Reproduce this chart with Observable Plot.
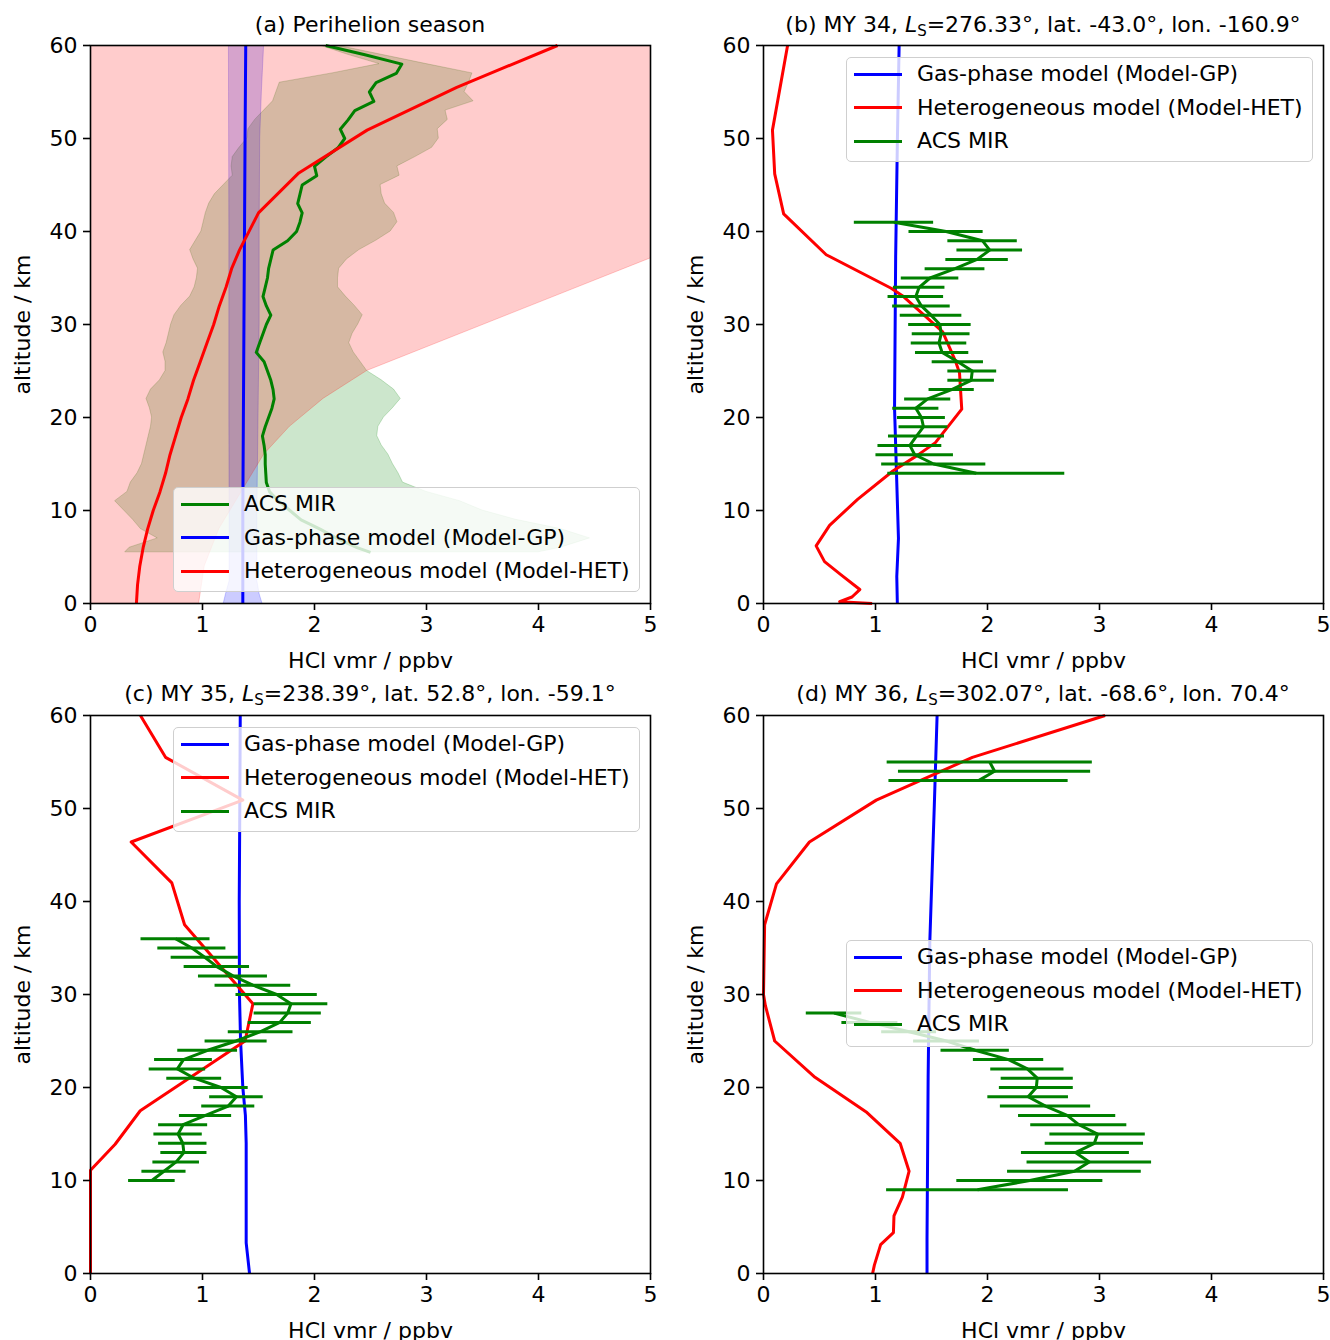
<!DOCTYPE html>
<html>
<head>
<meta charset="utf-8">
<script src="https://cdn.jsdelivr.net/npm/d3@7"></script>
<script src="https://cdn.jsdelivr.net/npm/@observablehq/plot@0.6"></script>
<style>
  body { margin: 0; background: #fff; font-family: "DejaVu Sans", sans-serif; }
  #fig { position: relative; width: 1330px; height: 1340px; overflow: hidden; background: #fff; }
  .panel { position: absolute; }
  .title { position: absolute; text-align: center; font-size: 22px; line-height: 26px; white-space: nowrap; color: #000; }
  .title sub { font-size: 15px; vertical-align: -4px; line-height: 0; font-style: normal; }
  .legend { position: absolute; background: rgba(255,255,255,0.8); border: 1.5px solid #cfcfcf; border-radius: 5px; box-sizing: border-box; font-size: 22px; color: #000; }
  .legend .row { position: absolute; left: 0; height: 0; }
  .legend .handle { position: absolute; left: 7px; width: 48px; height: 3px; top: -1.5px; }
  .legend .lab { position: absolute; left: 70px; top: -13px; line-height: 26px; white-space: nowrap; }
</style>
</head>
<body>
<div id="fig"></div>
<script>
// ---------- shared ticks ----------
const xTicks = [0, 1, 2, 3, 4, 5];
const yTicks = [0, 10, 20, 30, 40, 50, 60];

// ---------- panel (a): Perihelion season ----------
const altAcsA = [60,59,58,57,56,55,54,53,52,51,50,49,48,47,46,45,44,43,42,41,40,39,38,37,36,35,34,33,32,31,30,29,28,27,26,25,24,23,22,21,20,19,18,17,16,15,14,13,12,11,10,9,8,7,6,5.5];
const acsMeanA = [2.10,2.45,2.78,2.73,2.55,2.49,2.53,2.36,2.30,2.23,2.27,2.21,2.10,2.00,2.02,1.89,1.87,1.85,1.89,1.87,1.84,1.76,1.63,1.61,1.59,1.58,1.56,1.54,1.57,1.61,1.57,1.54,1.51,1.48,1.55,1.58,1.61,1.63,1.64,1.62,1.59,1.56,1.535,1.55,1.56,1.56,1.565,1.57,1.60,1.68,1.78,1.88,2.05,2.20,2.38,2.50];
const acsLoA = [2.05,2.30,2.58,2.16,1.69,1.66,1.63,1.55,1.47,1.41,1.40,1.33,1.27,1.26,1.27,1.19,1.11,1.06,1.03,1.01,0.99,0.94,0.89,0.92,0.96,0.95,0.93,0.89,0.81,0.75,0.72,0.70,0.68,0.65,0.67,0.67,0.62,0.54,0.50,0.53,0.55,0.54,0.52,0.50,0.48,0.46,0.42,0.36,0.33,0.22,0.30,0.38,0.45,0.60,0.35,0.31];
const acsHiA = [2.20,2.60,3.00,3.41,3.38,3.34,3.42,3.17,3.19,3.10,3.11,3.05,2.90,2.74,2.76,2.59,2.60,2.63,2.71,2.74,2.68,2.55,2.40,2.29,2.22,2.21,2.21,2.28,2.36,2.43,2.39,2.34,2.31,2.35,2.41,2.47,2.60,2.71,2.77,2.70,2.62,2.57,2.56,2.60,2.66,2.70,2.75,2.79,3.00,3.30,3.50,3.80,4.20,4.46,4.20,4.00];

const altGpA = [0,1,2.4,5,10,20,30,40,50,55,60];
const gpA    = [1.36,1.36,1.36,1.36,1.36,1.365,1.37,1.375,1.38,1.383,1.386];
const gpLoA  = [1.19,1.21,1.242,1.242,1.242,1.24,1.24,1.24,1.238,1.237,1.236];
const gpHiA  = [1.535,1.51,1.49,1.49,1.49,1.50,1.51,1.51,1.515,1.53,1.55];

const altHetA = [0,2,4,6,8,10,12,14,16,18,20,22,24,26,28,30,32,34,36,38,42,46.3,50.9,55.5,60];
const hetA    = [0.41,0.42,0.44,0.47,0.51,0.56,0.62,0.67,0.71,0.76,0.81,0.87,0.92,0.98,1.04,1.10,1.15,1.21,1.26,1.33,1.50,1.86,2.47,3.27,4.17];
const altHetBandA = [0,4,8,12,16,19,22,25,37.1,60];
const hetLoA      = [0,0,0,0,0,0,0,0,0,0];
const hetHiA      = [0.97,1.02,1.15,1.35,1.55,1.78,2.08,2.47,5.0,9.8];

// ---------- panel (b): MY 34 ----------
const altAcsB = [41,40,39,38,37,36,35,34,33,32,31,30,29,28,27,26,25,24,23,22,21,20,19,18,17,16,15,14];
const acsB = [1.165,1.63,1.956,2.02,1.907,1.71,1.487,1.39,1.36,1.41,1.496,1.575,1.586,1.567,1.595,1.735,1.864,1.854,1.68,1.466,1.36,1.41,1.428,1.366,1.307,1.35,1.52,1.90];
const errB = [0.354,0.331,0.31,0.293,0.279,0.267,0.257,0.23,0.248,0.257,0.275,0.279,0.258,0.248,0.238,0.229,0.218,0.208,0.202,0.206,0.206,0.214,0.218,0.25,0.285,0.346,0.465,0.79];
const altHetB = [0,0.2,0.7,1.5,3.1,4.5,6.2,8.4,11.2,14.25,15.9,17.3,20.9,24.8,26.0,29.2,33.1,33.9,37.5,41.9,46.2,50.9,60];
const hetB    = [0.97,0.68,0.79,0.86,0.69,0.545,0.47,0.59,0.84,1.155,1.37,1.535,1.77,1.75,1.716,1.60,1.24,1.14,0.56,0.18,0.10,0.08,0.215];
const altGpB = [0,2.9,7,13,21,37.3,49.5,60];
const gpB    = [1.195,1.19,1.205,1.19,1.17,1.18,1.195,1.211];

// ---------- panel (c): MY 35 ----------
const altAcsC = [36,35,34,33,32,31,30,29,28,27,26,25,24,23,22,21,20,19,18,17,16,15,14,13,12,11,10];
const acsC = [0.759,0.905,1.02,1.128,1.272,1.45,1.662,1.79,1.761,1.69,1.519,1.30,1.046,0.83,0.776,0.926,1.165,1.303,1.23,1.027,0.827,0.782,0.824,0.834,0.765,0.656,0.548];
const errC = [0.308,0.304,0.30,0.292,0.308,0.338,0.363,0.329,0.30,0.282,0.289,0.277,0.267,0.258,0.252,0.245,0.243,0.239,0.237,0.233,0.219,0.216,0.216,0.206,0.208,0.197,0.208];
const altHetC = [0,11.1,13.9,17.5,25,29,37.5,42,46.4,50.9,55.5,60];
const hetC    = [0,0,0.22,0.444,1.38,1.45,0.84,0.726,0.363,1.36,0.67,0.446];
const altGpC = [0,3.3,10,14,17,20,25,30,40,50,60];
const gpC    = [1.42,1.39,1.39,1.39,1.383,1.36,1.34,1.33,1.328,1.333,1.337];

// ---------- panel (d): MY 36 ----------
const altAcsD = [55,54,53,40,28,27,26,25,24,23,22,21,20,19,18,17,16,15,14,13,12,11,10,9];
const acsD = [2.02,2.063,1.92,null,0.63,0.95,1.30,1.634,1.89,2.188,2.356,2.444,2.436,2.363,2.518,2.711,2.815,2.983,2.954,2.785,2.909,2.776,2.378,1.911];
const errD = [0.916,0.858,0.80,null,0.248,0.25,0.245,0.294,0.305,0.314,0.327,0.322,0.33,0.36,0.403,0.434,0.429,0.426,0.439,0.482,0.556,0.597,0.652,0.812];
const altHetD = [0,0.9,3.1,4.4,6.2,8.2,11,14,17.3,21.1,25,28.8,30,37.5,41.9,46.4,50.9,55.5,60];
const hetD    = [0.974,0.99,1.046,1.16,1.165,1.24,1.30,1.22,0.924,0.46,0.10,0.017,0,0.01,0.116,0.41,1.007,1.865,3.05];
const altGpD = [0,3.7,21.1,35.7,50.3,60];
const gpD    = [1.46,1.46,1.47,1.485,1.525,1.55];

// ---------- labels ----------
const lblACS = "ACS MIR";
const lblGP = "Gas-phase model (Model-GP)";
const lblHET = "Heterogeneous model (Model-HET)";
const titleA = "(a) Perihelion season";
const titleB = ["(b) MY 34, ", "=276.33°, lat. -43.0°, lon. -160.9°"];
const titleC = ["(c) MY 35, ", "=238.39°, lat. 52.8°, lon. -59.1°"];
const titleD = ["(d) MY 36, ", "=302.07°, lat. -68.6°, lon. 70.4°"];

const C = { acs: "green", gp: "blue", het: "red" };
const LW = 3;

const fig = document.getElementById("fig");

function idx(a) { return d3.range(a.length); }

function line(xs, ys, color) {
  return Plot.line(idx(ys), { x: i => xs[i], y: i => ys[i], stroke: color, strokeWidth: LW, strokeLinejoin: "round", strokeLinecap: "butt" });
}
function band(ys, lo, hi, color) {
  return Plot.areaX(idx(ys), { y: i => ys[i], x1: i => lo[i], x2: i => hi[i], fill: color, fillOpacity: 0.2, stroke: color, strokeOpacity: 0.2, strokeWidth: 1, clip: true });
}
function errbars(alt, mean, err, color) {
  const ii = idx(alt).filter(i => mean[i] != null);
  return Plot.ruleY(ii, { y: i => alt[i], x1: i => mean[i] - err[i], x2: i => mean[i] + err[i], stroke: color, strokeWidth: LW, strokeLinecap: "butt" });
}

function panel({ left, top, width, marginRight, marks }) {
  const svg = Plot.plot({
    width, height: 670,
    marginLeft: 90, marginRight, marginTop: 45, marginBottom: 67,
    style: { fontFamily: '"DejaVu Sans", sans-serif', fontSize: "22px", color: "#000", background: "transparent", overflow: "visible" },
    x: { domain: [0, 5] },
    y: { domain: [0, 60] },
    marks: [
      ...marks,
      Plot.axisX({ ticks: xTicks, tickFormat: d => String(d), tickSize: 7, tickPadding: 6, strokeWidth: 1.6, label: "HCl vmr / ppbv", labelAnchor: "center", labelOffset: 64, labelArrow: "none" }),
      Plot.axisY({ ticks: yTicks, tickFormat: d => String(d), tickSize: 7, tickPadding: 6, strokeWidth: 1.6, label: "altitude / km", labelAnchor: "center", labelOffset: 76, labelArrow: "none" }),
      Plot.frame({ stroke: "#000", strokeWidth: 1.6 })
    ]
  });
  const div = document.createElement("div");
  div.className = "panel";
  div.style.left = left + "px";
  div.style.top = top + "px";
  div.appendChild(svg);
  fig.appendChild(div);
}

function title(left, top, width, html) {
  const t = document.createElement("div");
  t.className = "title";
  t.style.left = left + "px";
  t.style.top = top + "px";
  t.style.width = width + "px";
  t.innerHTML = html;
  fig.appendChild(t);
}
function lsTitle(parts) {
  return parts[0] + '<i>L</i><sub>S</sub>' + parts[1];
}

function legend(left, top, width, height, items) {
  const box = document.createElement("div");
  box.className = "legend";
  box.style.left = left + "px";
  box.style.top = top + "px";
  box.style.width = width + "px";
  box.style.height = height + "px";
  items.forEach((it, i) => {
    const row = document.createElement("div");
    row.className = "row";
    row.style.top = (16 + i * 33.5) + "px";
    const h = document.createElement("div");
    h.className = "handle";
    h.style.background = it.color;
    const l = document.createElement("div");
    l.className = "lab";
    l.textContent = it.label;
    row.appendChild(h);
    row.appendChild(l);
    box.appendChild(row);
  });
  fig.appendChild(box);
}

// ---------- draw ----------
panel({
  left: 0, top: 0, width: 660, marginRight: 10,
  marks: [
    band(altAcsA, acsLoA, acsHiA, C.acs),
    band(altGpA, gpLoA, gpHiA, C.gp),
    band(altHetBandA, hetLoA, hetHiA, C.het),
    line(acsMeanA, altAcsA, C.acs),
    line(gpA, altGpA, C.gp),
    line(hetA, altHetA, C.het)
  ]
});
panel({
  left: 673, top: 0, width: 657, marginRight: 7,
  marks: [
    line(gpB, altGpB, C.gp),
    line(hetB, altHetB, C.het),
    errbars(altAcsB, acsB, errB, C.acs),
    line(acsB, altAcsB, C.acs)
  ]
});
panel({
  left: 0, top: 670, width: 660, marginRight: 10,
  marks: [
    line(gpC, altGpC, C.gp),
    line(hetC, altHetC, C.het),
    errbars(altAcsC, acsC, errC, C.acs),
    line(acsC, altAcsC, C.acs)
  ]
});
panel({
  left: 673, top: 670, width: 657, marginRight: 7,
  marks: [
    line(gpD, altGpD, C.gp),
    line(hetD, altHetD, C.het),
    errbars(altAcsD, acsD, errD, C.acs),
    line(acsD, altAcsD, C.acs)
  ]
});

title(90, 12, 560, titleA);
title(763, 12, 560, lsTitle(titleB));
title(90, 681, 560, lsTitle(titleC));
title(763, 681, 560, lsTitle(titleD));

legend(173, 487, 467, 105, [
  { label: lblACS, color: C.acs },
  { label: lblGP, color: C.gp },
  { label: lblHET, color: C.het }
]);
legend(846, 57, 467, 105, [
  { label: lblGP, color: C.gp },
  { label: lblHET, color: C.het },
  { label: lblACS, color: C.acs }
]);
legend(173, 727, 467, 105, [
  { label: lblGP, color: C.gp },
  { label: lblHET, color: C.het },
  { label: lblACS, color: C.acs }
]);
legend(846, 940, 467, 107, [
  { label: lblGP, color: C.gp },
  { label: lblHET, color: C.het },
  { label: lblACS, color: C.acs }
]);
</script>
</body>
</html>
